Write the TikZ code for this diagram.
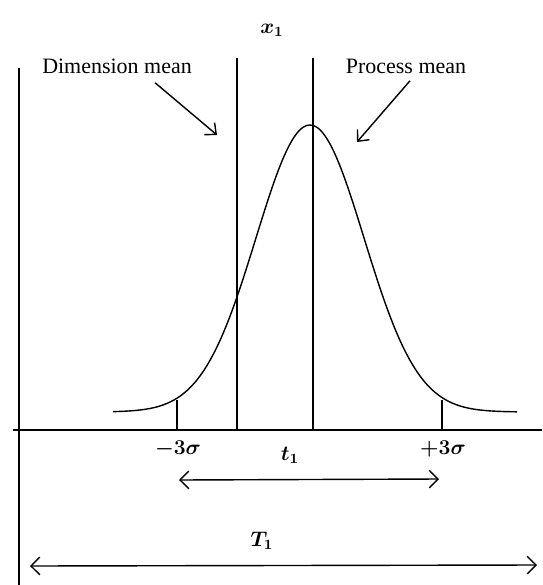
\documentclass[tikz,border=0pt]{standalone}
\usepackage{amsmath}
\usepackage{amssymb}
\usepackage{fontspec}
\setmainfont{Liberation Serif}
\usetikzlibrary{arrows.meta}

\tikzset{
  lbl/.style={inner sep=1pt, font=\fontsize{12.5}{14}\selectfont},
  mlbl/.style={inner sep=1pt, font=\fontsize{12}{14}\selectfont\boldmath},
  barb/.style={line width=0.8pt, {Straight Barb[length=5pt,width=10pt]}-{Straight Barb[length=5pt,width=10pt]}},
  pointer/.style={line width=0.8pt, -{Straight Barb[length=5pt,width=9pt]}}
}

\begin{document}
\begin{tikzpicture}[x=0.02cm, y=-0.02cm, line width=0.8pt]
        \useasboundingbox (0,0) rectangle (542,585);
        \draw (19,68) -- (19,585);
        \draw (13,430) -- (542,430);
        \draw (237,58) -- (237,430);
        \draw (313,58) -- (313,430);
        \draw plot[domain=113:517, samples=120, smooth] (\x, {412-287*exp(-0.5*((\x-310)/54)^2)});
        \draw (177,400) -- (177,430);
        \draw (442,400) -- (442,430);
        \node[mlbl] (x1) at (272,30) {$x_1$};
        \node[lbl] (dim) at (117,66) {Dimension mean};
        \node[lbl] (proc) at (406,66) {Process mean};
        \coordinate (dimtip) at (217,135);
        \coordinate (proctip) at (357,142);
        \draw[pointer] (dim.south east) ++(-39,7) -- (dimtip);
        \draw[pointer] (proc.south) ++(4,5) -- (proctip);
        \node[mlbl] (lo) at (178,449) {$-3\sigma$};
        \node[mlbl] (t1) at (290,455) {$t_1$};
        \node[mlbl] (hi) at (443,449) {$+3\sigma$};
        \coordinate (ta) at (179,480);
        \coordinate (tb) at (439,479);
        \draw[barb] (ta) -- (tb);
        \node[mlbl] (T1) at (262,541) {$T_1$};
        \coordinate (Ta) at (30,566);
        \coordinate (Tb) at (537,565);
        \draw[barb] (Ta) -- (Tb);
    \end{tikzpicture}
\end{document}
